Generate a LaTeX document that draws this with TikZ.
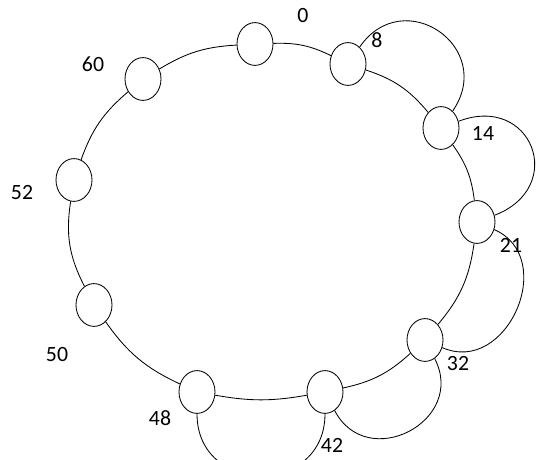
\documentclass[tikz,border=0pt]{standalone}
\usepackage{fontspec}
\setmainfont{Carlito}
\usetikzlibrary{shapes.geometric}

\begin{document}
\begin{tikzpicture}[peer/.style={draw, ellipse, line width=0.6pt, minimum width=0.9cm, minimum height=1.07cm, inner sep=0pt},
  ring/.style={line width=0.6pt},
  num/.style={font=\fontsize{15.5}{18}\selectfont, inner sep=0pt}]
\useasboundingbox (0,0) rectangle (13.5,11.5);

% peers on the ring
\foreach \n/\x/\y in {0/6.375/10.4, 8/8.7/9.9, 14/11.025/8.3, 21/11.925/5.95, 32/10.625/3.0,
  42/8.125/1.7, 48/4.925/1.7, 50/2.35/3.875, 52/1.85/7.0, 60/3.575/9.525} {
\node[peer] (p\n) at (\x,\y) {};
}

% their ids
\foreach \n/\x/\y in {0/7.575/11.1, 8/9.425/10.5, 14/12.075/8.175, 21/12.775/5.375, 32/11.45/2.4,
  42/8.3/0.375, 48/4.0/1.05, 50/1.425/2.625, 52/0.55/6.675, 60/2.325/9.9} {
\node[num] (l\n) at (\x,\y) {\n};
}

% the ring
\foreach \a/\b/\bb in {0/8/14, 8/14/16, 14/21/14, 21/32/16, 32/42/15, 42/48/10,
  48/50/15, 50/52/18, 52/60/15, 60/0/14} {
\draw[ring] (p\a) to[bend left=\bb] (p\b);
}

% fingers
\foreach \a/\b/\lo in {8/14/1.75, 14/21/2.0, 21/32/1.4, 32/42/1.6, 42/48/1.65} {
\draw[ring] (p\a) to[bend left=90, looseness=\lo] (p\b);
}

\end{tikzpicture}
\end{document}
